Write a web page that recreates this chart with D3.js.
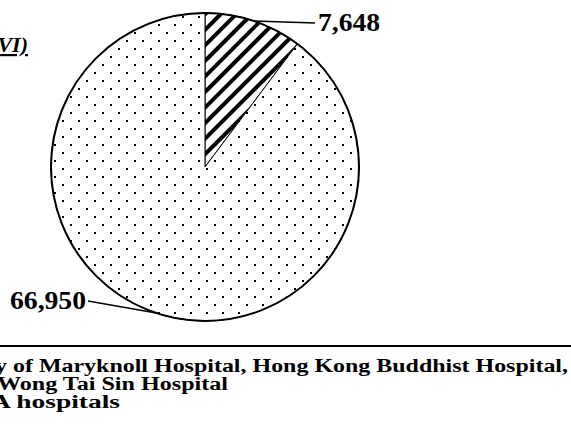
<!DOCTYPE html>
<html>
<meta charset="utf-8">
<title>pie</title>
<style>
html,body{ margin:0; background:#fff; }
svg { display:block; }
text { font-family: "Liberation Serif", "Times New Roman", serif; font-weight: bold; fill: #000; }
</style>
<script src="https://cdn.jsdelivr.net/npm/d3@7"></script>
<body>
<script>

var names = ["Hatched", "Dotted"];
var values = [7648, 66950];
var labels = ["7,648", "66,950"];
var notes = ["y of Maryknoll Hospital, Hong Kong Buddhist Hospital,",
             "Wong Tai Sin Hospital",
             "A hospitals"];

var width = 571, height = 436;
var cx = 205, cy = 167, r = 154;

var svg = d3.select("body").append("svg")
    .attr("width", width)
    .attr("height", height);

var defs = svg.append("defs");

// dotted fill
var dots = defs.append("pattern")
    .attr("id", "dots")
    .attr("patternUnits", "userSpaceOnUse")
    .attr("width", 16).attr("height", 16);
dots.append("rect").attr("width", 16).attr("height", 16).attr("fill", "#fff");
dots.append("rect").attr("x", 1).attr("y", 1).attr("width", 2).attr("height", 2).attr("fill", "#000");
dots.append("rect").attr("x", 9).attr("y", 9).attr("width", 2).attr("height", 2).attr("fill", "#000");

// diagonal hatch
var hatch = defs.append("pattern")
    .attr("id", "hatch")
    .attr("patternUnits", "userSpaceOnUse")
    .attr("width", 11).attr("height", 11)
    .attr("patternTransform", "rotate(-45)");
hatch.append("rect").attr("width", 11).attr("height", 11).attr("fill", "#fff");
hatch.append("rect").attr("width", 11).attr("height", 4).attr("fill", "#000");

var pie = d3.pie().sort(null).value(function(d){ return d; });
var arcs = pie(values);

var arc = d3.arc().innerRadius(0).outerRadius(r);

var g = svg.append("g").attr("transform", "translate(" + cx + "," + cy + ")");

g.selectAll("path.slice")
    .data(arcs)
  .enter().append("path")
    .attr("class", "slice")
    .attr("d", arc)
    .attr("fill", function(d, i){ return i == 0 ? "url(#hatch)" : "url(#dots)"; })
    .attr("stroke", "#000")
    .attr("stroke-width", 1);

g.append("circle")
    .attr("r", r)
    .attr("fill", "none")
    .attr("stroke", "#000")
    .attr("stroke-width", 2);

// leader lines + labels
var labelPos = [
  {x: 318, y: 31, w: 62},
  {x: 10, y: 309, w: 76}
];

arcs.forEach(function(d, i){
  var a = (d.startAngle + d.endAngle) / 2;
  var px = cx + r * Math.sin(a), py = cy - r * Math.cos(a);
  var lp = labelPos[i];
  var ly = lp.y - 8;
  svg.append("line")
      .attr("x1", px).attr("y1", py)
      .attr("x2", i == 0 ? lp.x - 3 : lp.x + lp.w + 2).attr("y2", ly)
      .attr("stroke", "#000").attr("stroke-width", 1.5);
  svg.append("text")
      .attr("x", lp.x).attr("y", lp.y)
      .attr("textLength", lp.w)
      .attr("lengthAdjust", "spacingAndGlyphs")
      .style("font-size", "25px")
      .text(labels[i]);
});

// clipped title piece
svg.append("text")
    .attr("x", 28).attr("y", 52)
    .attr("text-anchor", "end")
    .style("font-size", "22px")
    .style("font-style", "italic")
    .style("text-decoration", "underline")
    .text("(VI)");

// rule and note
svg.append("line")
    .attr("x1", 0).attr("x2", width)
    .attr("y1", 346).attr("y2", 346)
    .attr("stroke", "#000").attr("stroke-width", 2);

var noteX = [-5, -3, -9];
var noteW = [573, 231, 129];
svg.selectAll("text.note")
    .data(notes)
  .enter().append("text")
    .attr("class", "note")
    .attr("x", function(d, i){ return noteX[i]; })
    .attr("y", function(d, i){ return 372 + i * 18; })
    .attr("textLength", function(d, i){ return noteW[i]; })
    .attr("lengthAdjust", "spacingAndGlyphs")
    .style("font-size", "18px")
    .text(function(d){ return d; });

</script>
</body>
</html>
